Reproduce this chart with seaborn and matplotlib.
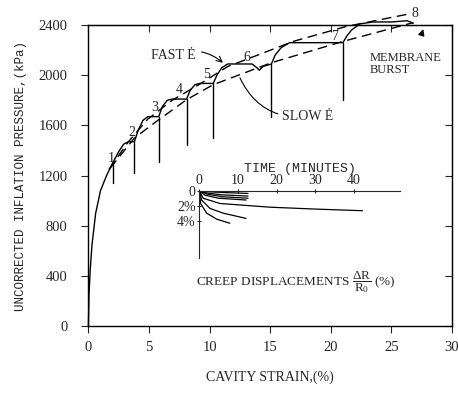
import matplotlib
matplotlib.use("Agg")
import matplotlib.pyplot as plt
import numpy as np
import pandas as pd
import seaborn as sns

sns.set_style("ticks")
plt.rcParams['font.family'] = ['Liberation Serif', 'DejaVu Serif']
plt.rcParams['mathtext.fontset'] = 'custom'
plt.rcParams['mathtext.rm'] = 'Liberation Serif'
plt.rcParams['mathtext.it'] = 'Liberation Serif'

# pressuremeter loading curve (strain %, pressure kPa)
strain = [0, 0.05, 0.15, 0.3, 0.6, 1.0, 1.5, 2.0, 2.5, 2.9, 3.3, 3.8,
          4.1, 4.5, 4.9, 5.8, 6.1, 6.5, 6.9, 8.1, 8.4, 8.8, 9.2, 10.3,
          10.6, 11.0, 11.5, 13.5, 13.9, 14.1, 14.4, 15.1, 15.4, 15.9, 16.6,
          21.0, 21.3, 21.7, 22.4, 23.5, 25.0, 26.3, 26.8]
pressure = [0, 250, 450, 650, 900, 1080, 1200, 1300, 1390, 1450, 1470, 1470,
            1560, 1640, 1670, 1670, 1750, 1800, 1810, 1810, 1880, 1925, 1935, 1935,
            2000, 2060, 2090, 2090, 2060, 2040, 2070, 2090, 2160, 2220, 2260,
            2260, 2310, 2360, 2410, 2425, 2425, 2435, 2415]

# creep holds (vertical drops)
hold_strain = [2.0, 3.8, 5.8, 8.1, 10.3, 15.1, 21.0]
hold_top = [1300, 1470, 1670, 1810, 1935, 2090, 2260]
hold_bottom = [1140, 1220, 1310, 1440, 1500, 1670, 1805]

# dashed envelopes
fast_strain = [1.7, 3.3, 4.9, 6.9, 9.2, 11.5, 13.4, 16.9, 21.3, 26.5]
fast_p = [1250, 1470, 1650, 1800, 1930, 2070, 2140, 2270, 2390, 2490]
slow_strain = [1.8, 3.8, 5.8, 8.1, 10.3, 15.1, 21.0, 26.8]
slow_p = [1260, 1500, 1645, 1805, 1925, 2100, 2270, 2420]

# stage numbers
stage_labels = ['1', '2', '3', '4', '5', '6', '7', '8']
stage_x = [1.9, 3.55, 5.5, 7.5, 9.75, 13.1, 20.3, 26.9]
stage_y = [1335, 1545, 1745, 1885, 2010, 2145, 2310, 2495]

# inset creep curves (time min, displacement %)
creep_t = [
    [0, 3, 7, 12.6],
    [0, 2, 6, 12.6],
    [0, 2, 6, 12.6],
    [0, 1.5, 5, 12.1],
    [0, 1.0, 5.3, 18.3, 30, 42.2],
    [0, 0.6, 2.75, 6.2, 12.1],
    [0, 0.34, 1.9, 4.5, 7.9],
]
creep_d = [
    [0, 0.15, 0.25, 0.36],
    [0, 0.3, 0.55, 0.71],
    [0, 0.45, 0.8, 1.0],
    [0, 0.6, 1.0, 1.24],
    [0, 1.0, 1.7, 2.2, 2.45, 2.67],
    [0, 1.24, 2.36, 3.0, 3.7],
    [0, 1.7, 3.0, 3.8, 4.35],
]

fig = plt.figure(figsize=(4.58, 4.05), dpi=100)
ax = fig.add_axes([0.193, 0.195, 0.794, 0.743])

lw = 1.0
sns.lineplot(x=strain, y=pressure, sort=False, estimator=None, color='black',
             lw=lw, ax=ax)
ax.lines[-1].set_clip_on(False)
for xs, top, bot in zip(hold_strain, hold_top, hold_bottom):
    sns.lineplot(x=[xs, xs], y=[top, bot], sort=False, estimator=None,
                 color='black', lw=lw, ax=ax)
sns.lineplot(x=fast_strain, y=fast_p, sort=False, estimator=None, color='black',
             lw=lw, ax=ax)
ax.lines[-1].set_dashes((7, 4))
ax.lines[-1].set_clip_on(False)
sns.lineplot(x=slow_strain, y=slow_p, sort=False, estimator=None, color='black',
             lw=lw, ax=ax)
ax.lines[-1].set_dashes((7, 4))
ax.lines[-1].set_clip_on(False)

for lab, x, y in zip(stage_labels, stage_x, stage_y):
    ax.text(x, y, lab, fontsize=10, ha='center', va='center')

ax.annotate('FAST Ė', xy=(11.1, 2100), xytext=(7.0, 2160), fontsize=10,
            ha='center', va='center',
            arrowprops=dict(arrowstyle='->', lw=0.8, color='black',
                            connectionstyle='arc3,rad=-0.3', shrinkA=2, shrinkB=0))
ax.annotate('SLOW Ė', xy=(12.5, 1980), xytext=(16.0, 1670), fontsize=10,
            ha='left', va='center',
            arrowprops=dict(arrowstyle='-', lw=0.8, color='black',
                            connectionstyle='arc3,rad=-0.35', shrinkA=1, shrinkB=0))
ax.text(23.2, 2090, 'MEMBRANE\nBURST', fontsize=9, ha='left', va='center',
        linespacing=1.1)
ax.annotate('', xy=(27.7, 2390), xytext=(27.5, 2330),
            arrowprops=dict(arrowstyle='-|>', lw=1.0, color='black',
                            mutation_scale=9))

ax.set_xlim(0, 30)
ax.set_ylim(0, 2400)
ax.set_xticks([0, 5, 10, 15, 20, 25, 30])
ax.set_yticks([0, 400, 800, 1200, 1600, 2000, 2400])
ax.tick_params(axis='both', labelsize=10.5, length=5, width=0.8, direction='out')
ax.tick_params(axis='y', pad=10)
ax.tick_params(axis='x', pad=6)
for s in ax.spines.values():
    s.set_linewidth(1.0)
    s.set_color('black')
top = ax.secondary_xaxis('top')
top.set_xticks([0, 5, 10, 15, 20, 25, 30])
top.tick_params(direction='in', length=5, labeltop=False)
right = ax.secondary_yaxis('right')
right.set_yticks([0, 400, 800, 1200, 1600, 2000, 2400])
right.tick_params(direction='in', length=5, labelright=False)

ax.set_xlabel('CAVITY STRAIN,(%)', fontsize=10, labelpad=12)
ax.set_ylabel('UNCORRECTED INFLATION PRESSURE,(kPa)', fontsize=9,
              family=['Liberation Mono'], labelpad=8)

# inset: creep displacements
ins = ax.inset_axes([0.305, 0.226, 0.552, 0.2235])
ins.patch.set_alpha(0)
for t, d in zip(creep_t, creep_d):
    sns.lineplot(x=t, y=d, sort=False, estimator=None, color='black', lw=0.9,
                 ax=ins)
ins.set_xlim(0, 51.9)
ins.set_ylim(9, 0)
ins.spines['right'].set_visible(False)
ins.spines['bottom'].set_visible(False)
ins.xaxis.tick_top()
ins.set_xticks([0, 10, 20, 30, 40])
ins.set_yticks([0, 2, 4])
ins.set_yticklabels(['0', '2%', '4%'])
ins.tick_params(labelsize=10, length=3, width=0.8, direction='inout', pad=1)
ins.xaxis.set_label_position('top')
ins.set_xlabel('TIME (MINUTES)', fontsize=9.5, family=['Liberation Mono'],
               labelpad=2)
ins.set_ylabel('')
ax.text(0.295, 0.145, r'CREEP DISPLACEMENTS $\dfrac{\Delta R}{R_0}$ (%)',
        transform=ax.transAxes, fontsize=9.5, ha='left', va='center')

fig.savefig('out.png', dpi=100)
